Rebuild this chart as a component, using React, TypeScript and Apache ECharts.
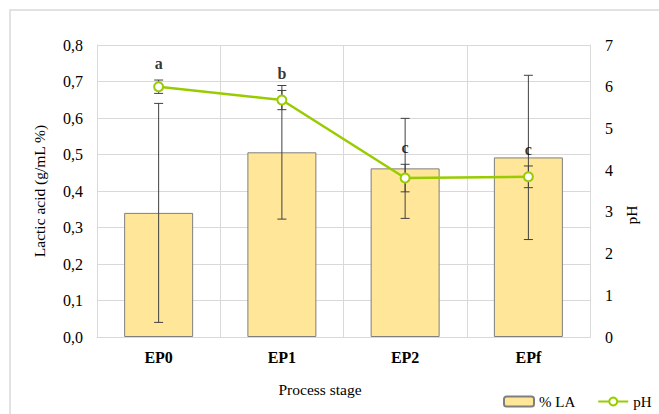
import React, { useEffect, useRef } from "react";
import * as echarts from "echarts";

const categories = ["EP0", "EP1", "EP2", "EPf"];
const laValues = [0.34, 0.506, 0.462, 0.492];
const laErrors = [0.3, 0.183, 0.137, 0.225];
const phValues = [6.0, 5.68, 3.81, 3.84];
const phErrors = [0.16, 0.23, 0.33, 0.26];
const letters = ["a", "b", "c", "c"];
const laTicks = { min: 0, max: 0.8, interval: 0.1 };
const phTicks = { min: 0, max: 7, interval: 1 };

const FONT = "Liberation Serif";
const GRID = "#d9d9d9";
const GREEN = "#99CC00";
const ERR = "#404040";

function errRender(params: any, api: any) {
  const x = api.value(0);
  const lo = api.coord([x, api.value(1)]);
  const hi = api.coord([x, api.value(2)]);
  const hw = 4.5;
  const style = { stroke: ERR, lineWidth: 1 };
  return {
    type: "group",
    children: [
      { type: "line", shape: { x1: lo[0], y1: lo[1], x2: hi[0], y2: hi[1] }, style },
      { type: "line", shape: { x1: lo[0] - hw, y1: lo[1], x2: lo[0] + hw, y2: lo[1] }, style },
      { type: "line", shape: { x1: hi[0] - hw, y1: hi[1], x2: hi[0] + hw, y2: hi[1] }, style },
    ],
  };
}

export default function App() {
  const ref = useRef<HTMLDivElement>(null);
  useEffect(() => {
    if (!ref.current) return;
    const chart = echarts.init(ref.current, null, { renderer: "svg" });
    const fmt = (v: number) => v.toFixed(1).replace(".", ",");
    chart.setOption({
      animation: false,
      backgroundColor: "#fff",
      textStyle: { fontFamily: FONT, color: "#000" },
      graphic: [
        {
          type: "rect",
          shape: { x: 10, y: 10, width: 700, height: 500 },
          style: { fill: "none", stroke: GRID, lineWidth: 1.5 },
          silent: true,
          z: -10,
        },
      ],
      grid: { left: 97, top: 45, right: 69, bottom: 77, containLabel: false },
      legend: {
        left: 498,
        top: 389,
        data: ["% LA", "pH"],
        itemWidth: 30,
        itemHeight: 10,
        itemGap: 22,
        textStyle: { fontFamily: FONT, fontSize: 15, color: "#000" },
      },
      xAxis: {
        type: "category",
        data: categories,
        axisLine: { lineStyle: { color: GRID, width: 1 } },
        axisTick: { show: false },
        splitLine: { show: true, lineStyle: { color: GRID, width: 1 } },
        axisLabel: { fontFamily: FONT, fontSize: 16, fontWeight: "bold", color: "#000", margin: 12 },
        name: "Process stage",
        nameLocation: "middle",
        nameGap: 44,
        nameTextStyle: { fontFamily: FONT, fontSize: 15.5, color: "#000", padding: [0, 47, 0, 0] },
      },
      yAxis: [
        {
          type: "value",
          min: laTicks.min,
          max: laTicks.max,
          interval: laTicks.interval,
          axisLine: { show: true, lineStyle: { color: GRID } },
          axisTick: { show: false },
          splitLine: { show: true, lineStyle: { color: GRID, width: 1 } },
          axisLabel: { fontFamily: FONT, fontSize: 16, color: "#000", margin: 14, formatter: fmt },
          name: "Lactic acid (g/mL %)",
          nameLocation: "middle",
          nameGap: 50,
          nameTextStyle: { fontFamily: FONT, fontSize: 15.5, color: "#000" },
        },
        {
          type: "value",
          min: phTicks.min,
          max: phTicks.max,
          interval: phTicks.interval,
          axisLine: { show: true, lineStyle: { color: GRID } },
          axisTick: { show: false },
          splitLine: { show: false },
          axisLabel: { fontFamily: FONT, fontSize: 16, color: "#000", margin: 15 },
          name: "pH",
          nameLocation: "middle",
          nameGap: 33,
          nameTextStyle: { fontFamily: FONT, fontSize: 15.5, color: "#000", padding: [0, 48, 0, 0] },
        },
      ],
      series: [
        {
          name: "% LA",
          type: "bar",
          data: laValues,
          barWidth: 69,
          itemStyle: { color: "#FFE699", borderColor: "#7F7F7F", borderWidth: 1 },
          z: 2,
        },
        {
          type: "custom",
          name: "laErr",
          renderItem: errRender,
          data: categories.map((_, i) => [i, laValues[i] - laErrors[i], laValues[i] + laErrors[i]]),
          encode: { x: 0, y: [1, 2] },
          z: 3,
          silent: true,
        },
        {
          type: "custom",
          name: "phErr",
          yAxisIndex: 1,
          renderItem: errRender,
          data: categories.map((_, i) => [i, phValues[i] - phErrors[i], phValues[i] + phErrors[i]]),
          encode: { x: 0, y: [1, 2] },
          z: 3,
          silent: true,
        },
        {
          name: "pH",
          type: "line",
          yAxisIndex: 1,
          data: phValues,
          symbol: "circle",
          symbolSize: 9,
          lineStyle: { color: GREEN, width: 2.5 },
          itemStyle: { color: "#fff", borderColor: GREEN, borderWidth: 2 },
          z: 4,
        },
        {
          type: "scatter",
          name: "letters",
          yAxisIndex: 1,
          data: phValues.map((v, i) => v + phErrors[i]),
          symbolSize: 1,
          itemStyle: { color: "rgba(0,0,0,0)" },
          label: {
            show: true,
            position: "top",
            distance: 8,
            formatter: (p: any) => letters[p.dataIndex],
            fontFamily: FONT,
            fontSize: 16,
            fontWeight: "bold",
            color: "#000",
          },
          z: 5,
          silent: true,
        },
      ],
    });
    return () => chart.dispose();
  }, []);
  return (
    <div
      ref={ref}
      style={{ position: "fixed", left: 0, top: 0, width: 659, height: 414, background: "#fff" }}
    />
  );
}
